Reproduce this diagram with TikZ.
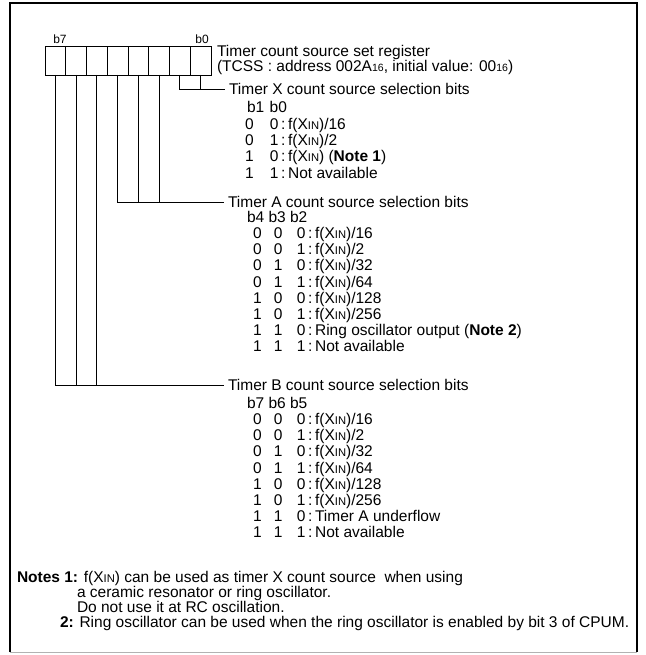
\documentclass[tikz,border=0pt]{standalone}
\usepackage{fontspec}
\setmainfont{Liberation Sans}
\usepackage{tikz}
\usetikzlibrary{positioning}

\newcommand{\xin}{X{\fontsize{11.2}{11.2}\selectfont IN}}
\newcommand{\fx}{f(\xin)}
\newcommand{\hexsub}[1]{{\fontsize{10.5}{10.5}\selectfont #1}}

\tikzset{
  cell/.style={draw, line width=0.9pt, minimum width=20.75pt, minimum height=29pt, inner sep=0pt, outer sep=0pt},
  txt/.style={inner sep=0pt, outer sep=0pt, font=\fontsize{15.5}{16.2}\selectfont, align=left},
  head/.style={txt, anchor=west, outer sep=4pt},
  bitlbl/.style={inner sep=0pt, font=\fontsize{12}{12}\selectfont},
  link/.style={line width=0.9pt},
}

\begin{document}
\begin{tikzpicture}[x=1pt, y=-1pt]
  \useasboundingbox (0,0) rectangle (645,655);
  % frame
  \draw [line width=2.5pt] (10,652) |- (637,3) -- (637,652);
  \draw [gray!60, line width=1pt] (10,652) -- (637,652);

  % register cells, b7 left ... b0 right
  \foreach \i in {0,...,7}
    \node [cell] (c\i) at ({200.6-20.75*\i},60.5) {};
  \node [bitlbl] (l7) at (60,39) {b7};
  \node [bitlbl] (l0) at (202,39) {b0};

  \node [txt, anchor=west] (title) at (217,60) {Timer count source set register\\[-1.2pt]
    (TCSS : address 002A\hexsub{16}, initial value: 00\hexsub{16})};

  % Timer X
  \node [head] (tx) at (225,89) {Timer X count source selection bits};
  \draw [link] (c1.south) |- (tx.west);
  \draw [link] (c0.south) -- (c0.south |- tx.west);
  \node [txt, anchor=base west] (txb) at (247,112.5) {b1\hspace{5.5pt}b0};
  \node [txt, anchor=base west] (txr) at (245,129.5) {\begin{tabular}[t]{@{}p{25pt}@{}l@{}}
    0 & 0\,:\,\fx/16\\
    0 & 1\,:\,\fx/2\\
    1 & 0\,:\,\fx{} (\textbf{Note 1})\\
    1 & 1\,:\,Not available
  \end{tabular}};

  % Timer A
  \node [head] (ta) at (224,202) {Timer A count source selection bits};
  \draw [link] (c4.south) |- (ta.west);
  \foreach \i in {3,2}
    \draw [link] (c\i.south) -- (c\i.south |- ta.west);
  \node [txt, anchor=base west] (tab) at (247,222.5) {b4 b3 b2};
  \node [txt, anchor=base west] (tar) at (253,238.5) {\begin{tabular}[t]{@{}p{21pt}@{}p{23pt}@{}l@{}}
    0 & 0 & 0\,:\,\fx/16\\
    0 & 0 & 1\,:\,\fx/2\\
    0 & 1 & 0\,:\,\fx/32\\
    0 & 1 & 1\,:\,\fx/64\\
    1 & 0 & 0\,:\,\fx/128\\
    1 & 0 & 1\,:\,\fx/256\\
    1 & 1 & 0\,:\,Ring oscillator output (\textbf{Note 2})\\
    1 & 1 & 1\,:\,Not available
  \end{tabular}};

  % Timer B
  \node [head] (tb) at (224,385) {Timer B count source selection bits};
  \draw [link] (c7.south) |- (tb.west);
  \foreach \i in {6,5}
    \draw [link] (c\i.south) -- (c\i.south |- tb.west);
  \node [txt, anchor=base west] (tbb) at (247,408.5) {b7 b6 b5};
  \node [txt, anchor=base west] (tbr) at (253,424.5) {\begin{tabular}[t]{@{}p{21pt}@{}p{23pt}@{}l@{}}
    0 & 0 & 0\,:\,\fx/16\\
    0 & 0 & 1\,:\,\fx/2\\
    0 & 1 & 0\,:\,\fx/32\\
    0 & 1 & 1\,:\,\fx/64\\
    1 & 0 & 0\,:\,\fx/128\\
    1 & 0 & 1\,:\,\fx/256\\
    1 & 1 & 0\,:\,Timer A underflow\\
    1 & 1 & 1\,:\,Not available
  \end{tabular}};

  % notes
  \node [txt, anchor=base west] (n1) at (17,582) {\textbf{Notes 1:} \fx{} can be used as timer X count source\ \ when using};
  \node [txt, anchor=base west] (n1b) at (77,597) {a ceramic resonator or ring oscillator.};
  \node [txt, anchor=base west] (n1c) at (77,612) {Do not use it at RC oscillation.};
  \node [txt, anchor=base west] (n2) at (60,627.5) {\textbf{2:} Ring oscillator can be used when the ring oscillator is enabled by bit 3 of CPUM.};
\end{tikzpicture}
\end{document}
